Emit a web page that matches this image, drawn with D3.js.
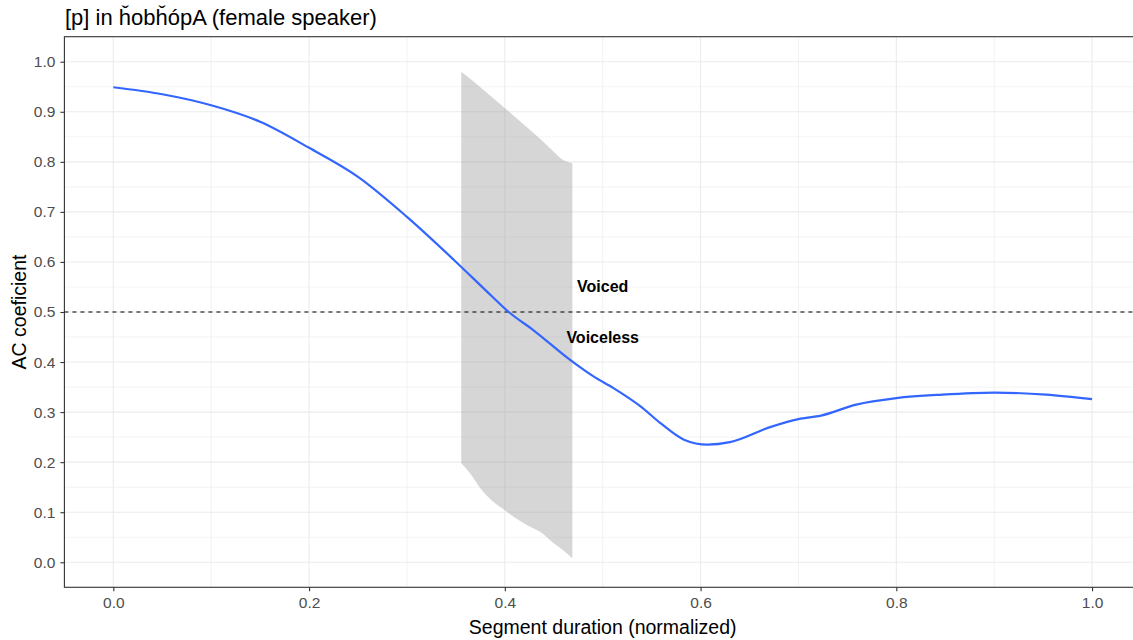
<!DOCTYPE html>
<html>
<head>
<meta charset="utf-8">
<script src="https://cdn.jsdelivr.net/npm/d3@7"></script>
<style>
  html, body { margin: 0; padding: 0; background: #fff; }
  svg { display: block; font-family: "Liberation Sans", Arial, sans-serif; }
</style>
</head>
<body>
<svg id="chart" width="1133" height="640"></svg>
<script>
// Smoothed AC coefficient over the normalized segment duration
const curveX = [0.0, 0.05, 0.10, 0.15, 0.20, 0.25, 0.30, 0.348, 0.387, 0.404, 0.429, 0.467, 0.491, 0.511, 0.539, 0.559, 0.583, 0.607, 0.630, 0.671, 0.700, 0.723, 0.759, 0.800, 0.847, 0.900, 0.953, 1.0];
const curveY = [0.949, 0.935, 0.913, 0.880, 0.828, 0.770, 0.690, 0.604, 0.531, 0.500, 0.464, 0.404, 0.371, 0.348, 0.311, 0.278, 0.245, 0.235, 0.240, 0.270, 0.286, 0.293, 0.315, 0.328, 0.335, 0.339, 0.335, 0.326];

// Confidence band around the voicing transition
const bandX     = [0.3555, 0.366, 0.375, 0.402, 0.429, 0.436, 0.450, 0.457, 0.469];
const bandUpper = [0.980, 0.964, 0.949, 0.904, 0.858, 0.846, 0.820, 0.807, 0.797];
const bandLower = [0.198, 0.174, 0.148, 0.101, 0.068, 0.061, 0.038, 0.028, 0.008];

// Threshold and its annotations
const threshold = 0.5;
const annotations = [
  { label: "Voiced",    x: 0.5, y: 0.55 },
  { label: "Voiceless", x: 0.5, y: 0.45 }
];

// Axis ticks
const xTicks = [0.0, 0.2, 0.4, 0.6, 0.8, 1.0];
const xMinor = [0.1, 0.3, 0.5, 0.7, 0.9];
const yTicks = [0.0, 0.1, 0.2, 0.3, 0.4, 0.5, 0.6, 0.7, 0.8, 0.9, 1.0];
const yMinor = [0.05, 0.15, 0.25, 0.35, 0.45, 0.55, 0.65, 0.75, 0.85, 0.95];

const titleText = "[p] in ȟobȟópA (female speaker)";
const xTitle = "Segment duration (normalized)";
const yTitle = "AC coeficient";

const svg = d3.select("#chart");
const panel = { left: 64.4, right: 1141, top: 36.7, bottom: 587.3 };

const x = d3.scaleLinear().domain([-0.05, 1.05]).range([panel.left, panel.right]);
const y = d3.scaleLinear().domain([-0.05, 1.05]).range([panel.bottom, panel.top]);

// Gridlines
const grid = svg.append("g");
grid.selectAll(".xminor").data(xMinor).join("line")
  .attr("x1", d => x(d)).attr("x2", d => x(d))
  .attr("y1", panel.top).attr("y2", panel.bottom)
  .attr("stroke", "#ebebeb").attr("stroke-width", 0.6);
grid.selectAll(".yminor").data(yMinor).join("line")
  .attr("y1", d => y(d)).attr("y2", d => y(d))
  .attr("x1", panel.left).attr("x2", panel.right)
  .attr("stroke", "#ebebeb").attr("stroke-width", 0.6);
grid.selectAll(".xmajor").data(xTicks).join("line")
  .attr("x1", d => x(d)).attr("x2", d => x(d))
  .attr("y1", panel.top).attr("y2", panel.bottom)
  .attr("stroke", "#ebebeb").attr("stroke-width", 1.1);
grid.selectAll(".ymajor").data(yTicks).join("line")
  .attr("y1", d => y(d)).attr("y2", d => y(d))
  .attr("x1", panel.left).attr("x2", panel.right)
  .attr("stroke", "#ebebeb").attr("stroke-width", 1.1);

// Confidence band
const bandData = bandX.map((v, i) => ({ x: v, lo: bandLower[i], hi: bandUpper[i] }));
svg.append("path")
  .datum(bandData)
  .attr("d", d3.area().x(d => x(d.x)).y0(d => y(d.lo)).y1(d => y(d.hi)).curve(d3.curveMonotoneX))
  .attr("fill", "#999999").attr("fill-opacity", 0.4);

// Threshold line
svg.append("line")
  .attr("x1", panel.left).attr("x2", panel.right)
  .attr("y1", y(threshold)).attr("y2", y(threshold))
  .attr("stroke", "#000").attr("stroke-width", 1.1)
  .attr("stroke-dasharray", "4,4");

// Smoothed curve
const curveData = curveX.map((v, i) => ({ x: v, y: curveY[i] }));
svg.append("path")
  .datum(curveData)
  .attr("d", d3.line().x(d => x(d.x)).y(d => y(d.y)).curve(d3.curveMonotoneX))
  .attr("fill", "none").attr("stroke", "#3366FF").attr("stroke-width", 2.2);

// Annotations
svg.selectAll(".ann").data(annotations).join("text")
  .attr("x", d => x(d.x)).attr("y", d => y(d.y))
  .attr("text-anchor", "middle").attr("dominant-baseline", "central")
  .attr("font-size", 16).attr("font-weight", "bold").attr("fill", "#000")
  .text(d => d.label);

// Panel border
svg.append("rect")
  .attr("x", panel.left).attr("y", panel.top)
  .attr("width", panel.right - panel.left).attr("height", panel.bottom - panel.top)
  .attr("fill", "none").attr("stroke", "#333333").attr("stroke-width", 1.1);

// Axes
const xAxis = svg.append("g")
  .attr("transform", `translate(0,${panel.bottom})`)
  .call(d3.axisBottom(x).tickValues(xTicks).tickFormat(d3.format(".1f")).tickSize(4).tickPadding(6));
const yAxis = svg.append("g")
  .attr("transform", `translate(${panel.left},0)`)
  .call(d3.axisLeft(y).tickValues(yTicks).tickFormat(d3.format(".1f")).tickSize(4).tickPadding(5));
[xAxis, yAxis].forEach(g => {
  g.select(".domain").remove();
  g.selectAll(".tick line").attr("stroke", "#333333").attr("stroke-width", 1.1);
  g.selectAll(".tick text").attr("fill", "#4d4d4d").attr("font-size", 15.5)
    .attr("font-family", "Liberation Sans, Arial, sans-serif");
});

// Titles
svg.append("text")
  .attr("x", 65).attr("y", 25)
  .attr("font-size", 22).attr("fill", "#000")
  .text(titleText);
svg.append("text")
  .attr("x", x(0.5)).attr("y", 634)
  .attr("text-anchor", "middle").attr("font-size", 19.5).attr("fill", "#000")
  .text(xTitle);
svg.append("text")
  .attr("transform", `translate(26,${y(0.5)}) rotate(-90)`)
  .attr("text-anchor", "middle").attr("font-size", 19.5).attr("fill", "#000")
  .text(yTitle);
</script>
</body>
</html>
